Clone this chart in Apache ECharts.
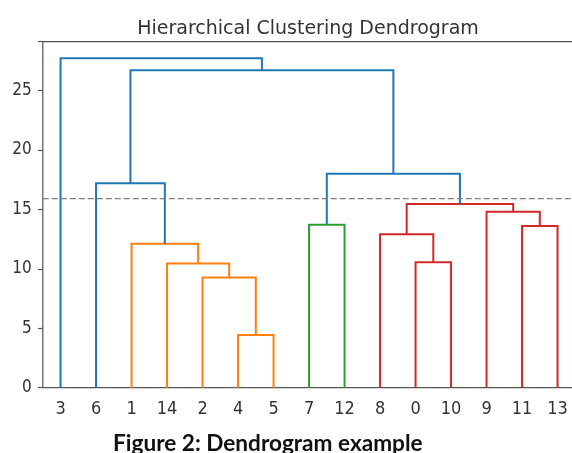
<!DOCTYPE html>
<html>
<head>
<meta charset="utf-8">
<script src="https://cdn.jsdelivr.net/npm/echarts@6/dist/echarts.min.js"></script>
<style>
  html, body { margin: 0; padding: 0; background: #ffffff; }
  #chart { width: 572px; height: 453px; }
</style>
</head>
<body>
<div id="chart"></div>
<script>
// Leaf order along the x axis (tick labels)
const leaves = ['3', '6', '1', '14', '2', '4', '5', '7', '12', '8', '0', '10', '9', '11', '13'];
// Merges: left node, right node (leaf label or 'mN' merge id), height, colour group
const mergeIds    = ['m15', 'm16', 'm17', 'm18', 'm19', 'm20', 'm21', 'm22', 'm23', 'm24', 'm25', 'm26', 'm27', 'm28'];
const mergeLeft   = ['4',   '2',   '0',   '14',  '1',   '8',   '11',  '7',   '9',   'm20', '6',   'm22', 'm25', '3'];
const mergeRight  = ['5',   'm15', '10',  'm16', 'm18', 'm17', '13',  '12',  'm21', 'm23', 'm19', 'm24', 'm26', 'm27'];
const mergeHeight = [4.44,  9.27,  10.55, 10.45, 12.1,  12.9,  13.6,  13.7,  14.8,  15.45, 17.2,  18.0,  26.7,  27.7];
const mergeGroup  = ['C1',  'C1',  'C3',  'C1',  'C1',  'C3',  'C3',  'C2',  'C3',  'C3',  'C0',  'C0',  'C0',  'C0'];
// Cut threshold (dashed line)
const threshold = 15.9;
const yTicks = [0, 5, 10, 15, 20, 25];

const palette = { C0: '#1f77b4', C1: '#ff7f0e', C2: '#2ca02c', C3: '#d62728' };
const tickFont = '"DejaVu Sans Condensed", "DejaVu Sans"';

// positions of nodes (scipy convention: leaf i at 10*i+5)
const pos = {}, hgt = {};
leaves.forEach((l, i) => { pos[l] = 10 * i + 5; hgt[l] = 0; });
const series = [];
mergeIds.forEach((id, k) => {
  const a = mergeLeft[k], b = mergeRight[k], h = mergeHeight[k];
  const xa = pos[a], xb = pos[b];
  pos[id] = (xa + xb) / 2; hgt[id] = h;
  series.push({
    type: 'line',
    data: [[xa, hgt[a]], [xa, h], [xb, h], [xb, hgt[b]]],
    symbol: 'none',
    silent: true,
    animation: false,
    lineStyle: { color: palette[mergeGroup[k]], width: 2, cap: 'butt', join: 'miter' },
    z: 3
  });
});
series.push({
  type: 'line',
  data: [[0, threshold], [150, threshold]],
  symbol: 'none',
  silent: true,
  animation: false,
  lineStyle: { color: '#808080', width: 1.2, type: [6, 3] },
  z: 4
});

const chart = echarts.init(document.getElementById('chart'), null, { renderer: 'canvas' });
chart.setOption({
  animation: false,
  backgroundColor: '#ffffff',
  title: {
    text: 'Hierarchical Clustering Dendrogram',
    left: 303,
    top: 15,
    textAlign: 'center',
    textStyle: { fontFamily: 'DejaVu Sans', fontSize: 19, fontWeight: 'normal', color: '#333333' }
  },
  grid: {
    left: 42.8, width: 532.5, top: 41.7, bottom: 65.3,
    outerBoundsMode: 'none',
    containLabel: false,
    show: true, borderColor: '#555555', borderWidth: 1.2, backgroundColor: 'transparent'
  },
  xAxis: {
    type: 'value', min: 0, max: 150, interval: 5,
    axisLine: { show: false },
    axisTick: { show: false },
    splitLine: { show: false },
    axisLabel: {
      margin: 13,
      fontFamily: tickFont, fontSize: 18, color: '#333333',
      formatter: v => (v % 10 === 5 ? leaves[(v - 5) / 10] : '')
    }
  },
  yAxis: {
    type: 'value', min: 0, max: 29.1, interval: 5,
    axisLine: { show: false },
    axisTick: { show: true, length: 5, lineStyle: { color: '#555555', width: 1.2 } },
    splitLine: { show: false },
    axisLabel: {
      margin: 11,
      fontFamily: tickFont, fontSize: 17, color: '#333333',
      formatter: v => (yTicks.indexOf(v) >= 0 ? String(v) : '')
    }
  },
  graphic: [{
    type: 'text',
    left: 113, top: 432,
    style: {
      text: 'Figure 2: Dendrogram example',
      fontFamily: 'Lato', fontWeight: 'bold', fontSize: 22.6, fill: '#111111'
    }
  }],
  series: series
});
</script>
</body>
</html>
